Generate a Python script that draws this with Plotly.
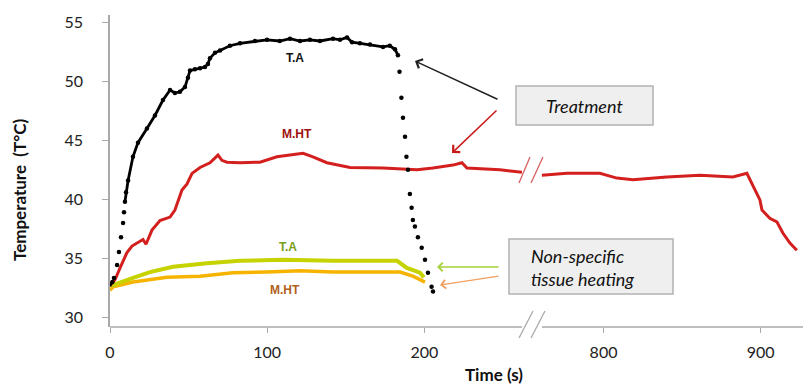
import plotly.graph_objects as go

# ---------------- data ----------------
# Thermo-ablation (T.A), treatment zone, black dots
ta_time = [0, 1.5, 2.5, 4.5, 5.7, 7.0, 8.3, 8.9, 9.5, 10.2, 11.5, 14.6, 17.8, 23.5, 28.6, 33.7,
           38.2, 41.3, 44.5, 47.7, 49.6, 50.9, 54.0, 57.3, 60.4, 62.3, 63.6, 66.8, 70.0, 76.3,
           82.7, 92.2, 99.9, 108.0, 114.5, 120.9, 127.2, 133.6, 141.9, 146.3, 150.8, 154.0,
           159.0, 165.4, 173.7, 178.0, 181.3, 183.2, 184.2, 185.4, 186.4, 187.7, 188.6, 189.6,
           190.8, 191.9, 192.7, 194.0, 195.9, 198.3, 200.4, 202.3, 204.6, 205.5]
ta_temp = [32.8, 33.0, 33.35, 34.45, 35.55, 36.8, 38.0, 38.9, 39.8, 40.6, 41.6, 43.6, 44.8, 46.0,
           47.1, 48.4, 49.25, 49.0, 49.1, 49.5, 50.3, 50.9, 51.0, 51.1, 51.2, 51.45, 51.95, 52.4,
           52.6, 53.0, 53.2, 53.4, 53.5, 53.4, 53.6, 53.4, 53.5, 53.4, 53.6, 53.5, 53.7, 53.3,
           53.2, 53.1, 52.9, 53.0, 52.7, 52.2, 50.8, 48.6, 46.9, 45.3, 43.6, 42.5, 40.45, 39.3,
           38.25, 37.7, 36.8, 35.9, 34.9, 33.8, 32.6, 32.2]

# Mild hyperthermia (M.HT), treatment zone, red
mlht_time = [0.5, 3.2, 6.4, 10.8, 14.0, 17.2, 21.0, 22.9, 26.7, 31.8, 38.2, 41.3, 43.3, 45.8,
             49.0, 52.2, 57.3, 63.6, 68.7, 71.2, 74.4, 82.7, 95.4, 106.2, 114.5, 122.8, 129.1,
             138.0, 152.7, 173.7, 195.3, 205.5, 218.2, 223.9, 227.1, 248.1, 262.1, 760.8, 776.7,
             797.7, 808.5, 818.7, 840.3, 861.3, 882.3, 891.2, 893.1, 896.3, 899.5, 900.8, 905.8,
             910.3, 914.1, 918.6, 923.0]
mlht_temp = [32.8, 33.2, 34.2, 35.5, 36.05, 36.3, 36.6, 36.2, 37.4, 38.2, 38.5, 39.1, 39.9, 40.8,
             41.3, 42.2, 42.7, 43.1, 43.75, 43.3, 43.15, 43.1, 43.15, 43.6, 43.75, 43.9, 43.6,
             43.1, 42.7, 42.65, 42.5, 42.65, 42.9, 43.1, 42.65, 42.5, 42.3, 42.05, 42.2, 42.2,
             41.8, 41.65, 41.9, 42.05, 41.9, 42.2, 41.65, 40.8, 39.95, 39.1, 38.4, 38.1, 37.15,
             36.3, 35.7]

# Non-specific tissue heating, T.A (yellow-green)
tans_time = [1.3, 1.9, 14.6, 25.4, 40.1, 61.7, 82.7, 110.0, 141.9, 182.6, 188.9, 197.2, 199.7]
tans_temp = [32.6, 32.75, 33.35, 33.85, 34.3, 34.6, 34.8, 34.9, 34.8, 34.8, 34.2, 33.8, 33.4]

# Non-specific tissue heating, M.HT (orange)
mlns_time = [0, 2.0, 14.6, 36.3, 57.3, 78.2, 99.9, 120.9, 141.9, 163.5, 184.5, 192.7, 200.4]
mlns_temp = [32.3, 32.6, 33.0, 33.4, 33.5, 33.8, 33.85, 33.95, 33.85, 33.85, 33.85, 33.5, 33.0]

x_tick_times = [0, 100, 200, 800, 900]
x_tick_labels = ["0", "100", "200", "800", "900"]
y_ticks = [30, 35, 40, 45, 50, 55]

# ---------------- broken time axis ----------------
BREAK_START, BREAK_END = 269, 755


def to_u(t):
    return t if t <= BREAK_START else t - (BREAK_END - BREAK_START)


def with_gap(times, temps):
    xs, ys = [], []
    for i, (t, v) in enumerate(zip(times, temps)):
        if i > 0 and times[i - 1] <= BREAK_START < t:
            xs.append(None)
            ys.append(None)
        xs.append(to_u(t))
        ys.append(v)
    return xs, ys


# page geometry: the page body has an 8 px margin
PAGE_W, PAGE_H, OFF = 811, 385, 8
# plot-area geometry in page pixels, used to place decorations
L, R, TOP, BOT = 110, 811, 15, 327
W, H = R - L, BOT - TOP


def px(x):
    return (x - L) / W


def py(y):
    return (BOT - y) / H


fig = go.Figure()

ox, oy = with_gap(mlns_time, mlns_temp)
fig.add_trace(go.Scatter(x=ox, y=oy, mode="lines", line=dict(color="#f6b400", width=3.5),
                         hoverinfo="skip"))
gx, gy = with_gap(tans_time, tans_temp)
fig.add_trace(go.Scatter(x=gx, y=gy, mode="lines", line=dict(color="#c6d300", width=4),
                         hoverinfo="skip"))
rx, ry = with_gap(mlht_time, mlht_temp)
fig.add_trace(go.Scatter(x=rx, y=ry, mode="lines", line=dict(color="#d41f1f", width=3),
                         hoverinfo="skip"))
dense = [(to_u(t), v) for t, v in zip(ta_time, ta_temp) if 9.5 <= t <= 183.2]
fig.add_trace(go.Scatter(x=[d[0] for d in dense], y=[d[1] for d in dense], mode="lines",
                         line=dict(color="black", width=2.8), hoverinfo="skip"))
fig.add_trace(go.Scatter(x=[to_u(t) for t in ta_time], y=ta_temp, mode="markers",
                         marker=dict(color="black", size=4.5), hoverinfo="skip"))

axis_grey = "#a9a9a9"
shapes = [
    # x axis line with break
    dict(type="line", xref="paper", yref="paper", x0=0, x1=px(522), y0=0, y1=0,
         line=dict(color=axis_grey, width=1.5)),
    dict(type="line", xref="paper", yref="paper", x0=px(542), x1=1, y0=0, y1=0,
         line=dict(color=axis_grey, width=1.5)),
    dict(type="line", xref="paper", yref="paper", x0=px(519), y0=py(338), x1=px(533), y1=py(311),
         line=dict(color=axis_grey, width=1.3)),
    dict(type="line", xref="paper", yref="paper", x0=px(531), y0=py(338), x1=px(545), y1=py(311),
         line=dict(color=axis_grey, width=1.3)),
    # break marks on red curve
    dict(type="line", xref="paper", yref="paper", x0=px(519), y0=py(183), x1=px(530), y1=py(157),
         line=dict(color="#d86060", width=1.3)),
    dict(type="line", xref="paper", yref="paper", x0=px(531), y0=py(183), x1=px(543), y1=py(157),
         line=dict(color="#d86060", width=1.3)),
    # text boxes
    dict(type="rect", xref="paper", yref="paper", x0=px(516), x1=px(653), y0=py(125), y1=py(86),
         fillcolor="#efefef", line=dict(color="#b3b3b3", width=1.5)),
    dict(type="rect", xref="paper", yref="paper", x0=px(509), x1=px(673), y0=py(294), y1=py(239),
         fillcolor="#efefef", line=dict(color="#b3b3b3", width=1.5)),
]

lab_font = "Liberation Sans"
annotations = [
    dict(x=px(295), y=py(58), text="<b>T.A</b>", font=dict(family=lab_font, size=12, color="#111111")),
    dict(x=px(297), y=py(134), text="<b>M.HT</b>", font=dict(family=lab_font, size=12, color="#a01010")),
    dict(x=px(288), y=py(247), text="<b>T.A</b>", font=dict(family=lab_font, size=12, color="#7a9e1a")),
    dict(x=px(285), y=py(290), text="<b>M.HT</b>", font=dict(family=lab_font, size=12, color="#b0601c")),
    dict(x=px(584), y=py(106), text="<i>Treatment</i>",
         font=dict(family="Lato", size=18, color="#111111")),
    dict(x=px(529), y=py(267), xanchor="left", align="left",
         text="<i>Non-specific<br>tissue heating</i>",
         font=dict(family="Lato", size=18, color="#111111")),
    # axis titles
    dict(x=px(19), y=py(190), text="<b>Temperature  (T°C)</b>", textangle=-90,
         font=dict(family="Lato", size=17, color="#111111")),
    dict(x=px(494), y=py(375), text="<b>Time (s)</b>",
         font=dict(family="Lato", size=17, color="#111111")),
    # arrows
    dict(x=px(415), y=py(61), ax=84, ay=39, text="", showarrow=True, arrowhead=4, arrowsize=1.3,
         arrowwidth=1.5, arrowcolor="#222222"),
    dict(x=px(452), y=py(153), ax=46, ay=-44, text="", showarrow=True, arrowhead=4, arrowsize=1.3,
         arrowwidth=1.5, arrowcolor="#c81a1a"),
    dict(x=px(437), y=py(267), ax=63, ay=0, text="", showarrow=True, arrowhead=4, arrowsize=1.3,
         arrowwidth=1.3, arrowcolor="#a6d23c"),
    dict(x=px(440), y=py(285), ax=60, ay=-9, text="", showarrow=True, arrowhead=4, arrowsize=1.3,
         arrowwidth=1.3, arrowcolor="#f0a060"),
]
for a in annotations:
    a.setdefault("xref", "paper")
    a.setdefault("yref", "paper")
    a.setdefault("showarrow", False)
    a.setdefault("xanchor", "center")
    a.setdefault("yanchor", "middle")

fig.update_layout(
    width=PAGE_W - OFF, height=PAGE_H - OFF, autosize=False,
    margin=dict(l=L - OFF, r=PAGE_W - R, t=TOP - OFF, b=PAGE_H - BOT),
    paper_bgcolor="white", plot_bgcolor="white",
    showlegend=False,
    shapes=shapes, annotations=annotations,
    font=dict(family="Lato", color="#222222"),
    xaxis=dict(range=[0, 446], tickvals=[to_u(t) for t in x_tick_times], ticktext=x_tick_labels,
               showline=False, showgrid=False, zeroline=False, ticks="outside", ticklen=5,
               tickcolor=axis_grey, tickwidth=1.3, tickfont=dict(family="Lato", size=16, color="#222222"),
               ticklabelstandoff=6, automargin=False, fixedrange=True),
    yaxis=dict(range=[29.2, 55.6], tickvals=y_ticks, showline=True, linecolor=axis_grey, linewidth=1.5,
               showgrid=False, zeroline=False, ticks="outside", ticklen=6, tickcolor=axis_grey,
               tickwidth=1.3, tickfont=dict(family="Lato", size=16, color="#222222"),
               ticklabelstandoff=16, automargin=False, fixedrange=True),
)

fig.write_html("out.html")
